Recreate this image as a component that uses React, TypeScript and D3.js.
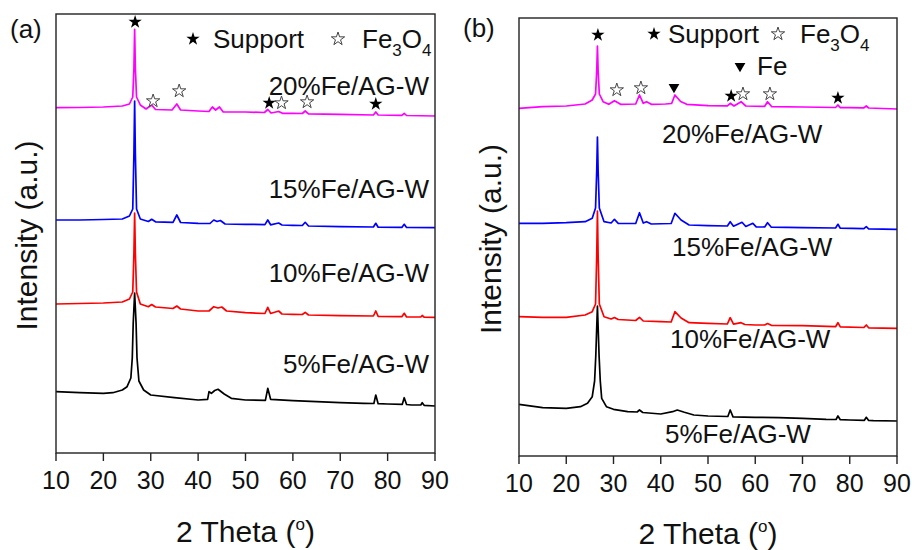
import React from "react";
import * as d3 from "d3";

type Pt = [number, number];

// ---- shared axis / labels ----
const xTicks = [10, 20, 30, 40, 50, 60, 70, 80, 90];
const sampleNames = ["5%Fe/AG-W", "10%Fe/AG-W", "15%Fe/AG-W", "20%Fe/AG-W"];
const seriesColors = ["#000000", "#ff0000", "#0000ff", "#ff00ff"];

// ---- panel (a): stacked intensities (a.u.) vs 2θ ----
const a5: Pt[] = [
  [10, 61.3], [15, 60.3], [20, 59.7], [22, 60.3], [24, 63], [25, 66.3], [25.8, 75], [26.1, 95],
  [26.3, 130], [26.6, 160], [26.9, 130], [27.1, 95], [27.5, 72], [28.5, 63], [30, 58], [35, 55.3],
  [40, 53], [42, 53.7], [42.3, 61.3], [42.8, 59.7], [43.5, 62.5], [44.2, 63.7], [45.5, 59],
  [47, 54.7], [50, 53], [54.2, 52.7], [54.7, 64.7], [55.3, 53.7], [60, 52.3], [65, 51.3],
  [70, 50.3], [75, 49.7], [77.1, 49.5], [77.5, 58], [78, 49.3], [80, 49], [83.1, 48.7],
  [83.5, 55.3], [84, 48.5], [85, 48], [87, 48], [87.3, 50.3], [87.7, 47.7], [90, 47],
];
const a10: Pt[] = [
  [10, 149], [15, 149.5], [20, 150], [24, 151], [25.5, 154], [26.2, 161], [26.45, 200], [26.6, 240],
  [26.75, 200], [27, 161], [27.8, 149], [29.5, 146.3], [30.2, 148.5], [31, 146], [34.7, 144.5],
  [35.5, 147], [36.3, 144], [40, 142], [42.3, 142], [43.3, 146.3], [44.2, 145], [45, 146], [46, 142],
  [50, 140.3], [54.1, 139.5], [54.7, 145.7], [55.3, 139.5], [57, 142], [57.7, 139], [60, 138.7],
  [62, 138.5], [62.6, 140.7], [63.3, 138], [70, 137.3], [77, 137], [77.5, 142], [78, 136.7],
  [83, 136.3], [83.5, 139.7], [84, 136], [87, 136], [87.3, 137.5], [87.7, 135.8], [90, 135.7],
];
const a15: Pt[] = [
  [10, 233], [15, 233], [20, 233.5], [24, 234], [25.5, 237], [26.2, 244], [26.45, 300], [26.6, 352],
  [26.75, 300], [27, 244], [27.8, 234], [29.5, 231.5], [30.2, 233.7], [31, 231.2], [34.7, 230.7],
  [35.5, 238], [36.3, 230.5], [40, 229.7], [42.5, 229.5], [43.3, 233], [44, 231.5], [44.7, 232.5],
  [45.7, 229], [50, 228.7], [54.1, 228.4], [54.7, 233], [55.3, 228.2], [57, 230], [57.7, 228],
  [60, 227.7], [62, 227.5], [62.6, 230.7], [63.3, 227], [70, 226.3], [77, 226], [77.5, 229.7],
  [78, 225.8], [83, 225.6], [83.5, 228.7], [84, 225.5], [90, 225.3],
];
const a20: Pt[] = [
  [10, 345.3], [15, 345.5], [20, 346], [24, 347], [25.5, 349], [26.2, 356], [26.45, 385],
  [26.6, 423.7], [26.75, 385], [27, 356], [27.8, 348], [29, 344], [30.2, 348], [31, 343.5],
  [34.5, 343], [35.5, 349], [36.3, 343], [40, 342], [42.3, 341.5], [43, 346], [43.7, 343],
  [44.5, 346], [45.3, 341], [50, 341], [54, 340.5], [54.7, 343.5], [55.4, 340], [57, 341.5],
  [57.8, 339.7], [60, 339.7], [62, 339.5], [62.6, 342], [63.3, 339.2], [70, 338.7], [77, 338],
  [77.5, 341], [78, 338], [83, 337.7], [83.5, 339.7], [84, 337.5], [90, 337],
];

// ---- panel (b) ----
const b5: Pt[] = [
  [10, 51.7], [15, 48.3], [20, 47.7], [23, 49.3], [24.5, 52.7], [25.5, 59.3], [26, 75], [26.25, 100],
  [26.6, 150], [26.95, 100], [27.2, 75], [27.5, 57.7], [28.5, 49.3], [30, 46.7], [33, 44.3], [35, 44],
  [35.5, 46], [36.2, 43.5], [40, 42], [42.5, 44.3], [43.5, 46], [45, 43.7], [47, 41], [50, 40],
  [54.2, 39.5], [54.7, 46], [55.3, 39.2], [60, 38.7], [65, 38.3], [70, 37.7], [75, 36.7],
  [77.1, 36.5], [77.5, 40], [78, 36.3], [80, 36], [83.1, 35.7], [83.5, 38.7], [84, 35.5],
  [85, 35.3], [90, 35],
];
const b10: Pt[] = [
  [10, 139.3], [15, 138.7], [20, 138.7], [24, 141], [25.5, 144.3], [26.2, 152], [26.45, 200],
  [26.6, 245], [26.75, 200], [27, 152], [28, 139.3], [29.5, 137], [30.2, 138.5], [31, 136.5],
  [34.7, 135.5], [35.5, 138.7], [36.3, 135], [40, 134.3], [42.2, 134], [43, 144.3], [44.3, 138],
  [46, 133.3], [50, 132.7], [54.1, 132], [54.7, 138.3], [55.4, 131.8], [57, 133.3], [57.8, 131.5],
  [60, 131], [62, 131], [62.6, 132.5], [63.4, 130.7], [70, 130.3], [77, 129.3], [77.5, 133.3],
  [78, 129.2], [83, 128.5], [83.5, 131], [84, 128.2], [90, 127.7],
];
const b15: Pt[] = [
  [10, 232.7], [15, 232.7], [20, 233.3], [24, 234.3], [25.5, 237.7], [26.2, 248], [26.45, 285],
  [26.6, 319], [26.75, 285], [27, 248], [28, 234.3], [29.5, 233], [30.2, 236.7], [31, 232.7],
  [34.7, 232.5], [35.5, 243.3], [36.3, 233], [37, 234.3], [38, 232], [42.2, 232.5], [43, 242.7],
  [44.3, 236], [46, 231], [50, 230.3], [54.1, 230], [54.7, 234.3], [55.4, 229.8], [57.2, 233.7],
  [58, 229.5], [59.5, 232.7], [60.2, 229.2], [62, 229], [62.6, 233.3], [63.4, 228.8], [70, 228.3],
  [77, 228], [77.5, 231.7], [78, 227.8], [83, 227.4], [83.5, 229.3], [84, 227.2], [90, 226.7],
];
const b20: Pt[] = [
  [10, 347.7], [15, 349.3], [20, 350], [24, 352], [25.5, 356], [26.2, 362], [26.45, 385], [26.6, 410],
  [26.75, 385], [27, 362], [27.8, 354.3], [29, 351.7], [30.2, 355.3], [31.5, 351.7], [34.7, 352],
  [35.5, 361], [36.3, 352.7], [37, 354.3], [38, 351.7], [41, 352], [42.3, 352.5], [43, 361],
  [44.2, 354.5], [45.5, 351.7], [50, 350.3], [54.1, 350.2], [54.7, 352.7], [55.5, 350], [57, 354.3],
  [58, 350], [62, 349.7], [62.6, 354.3], [63.5, 349.3], [70, 349], [77, 348.5], [77.5, 351],
  [78, 348.4], [80, 348.3], [83, 348.2], [83.5, 350], [84, 348], [90, 347],
];

// ---- phase markers: [2θ, intensity, kind] ----
type Mk = [number, number, "support" | "fe3o4" | "fe"];
const aMarkers: Mk[] = [
  [26.7, 431, "support"], [30.5, 352, "fe3o4"], [36.0, 362, "fe3o4"], [55.0, 350, "support"],
  [57.6, 350, "fe3o4"], [63.0, 351, "fe3o4"], [77.5, 349, "support"],
];
const bMarkers: Mk[] = [
  [26.7, 421, "support"], [30.7, 366, "fe3o4"], [35.8, 368, "fe3o4"], [42.8, 369, "fe"],
  [54.9, 360, "support"], [57.4, 362, "fe3o4"], [63.1, 362, "fe3o4"], [77.5, 358, "support"],
];

const FONT = "'Liberation Sans', Arial, Helvetica, sans-serif";

const starPath = d3.symbol().type(d3.symbolStar).size(55)() as string;
const triPath = d3.symbol().type(d3.symbolTriangle).size(50)() as string;

function Marker({ x, y, kind }: { x: number; y: number; kind: string }) {
  if (kind === "support")
    return <path d={starPath} transform={`translate(${x},${y})`} fill="#000" />;
  if (kind === "fe3o4")
    return (
      <path d={starPath} transform={`translate(${x},${y})`} fill="#fff" stroke="#444" strokeWidth={1} />
    );
  return <path d={triPath} transform={`translate(${x},${y}) rotate(180)`} fill="#000" />;
}

type PanelProps = {
  left: number; right: number; top: number; bottom: number;
  series: Pt[][];
  markers: Mk[];
  labelPos: { x: number; y: number; anchor: string }[];
  tag: string; tagPos: [number, number];
  yTitleX: number;
  tickLabelY: number;
  xTitleY: number;
  legend: React.ReactNode;
};

function Panel(p: PanelProps) {
  const x = d3.scaleLinear().domain([10, 90]).range([p.left, p.right]);
  const y = d3.scaleLinear().domain([0, p.bottom - p.top]).range([p.bottom, p.top]);
  const line = d3.line<Pt>().x((d) => x(d[0])).y((d) => y(d[1]));
  const cx = (p.left + p.right) / 2;
  const cy = (p.top + p.bottom) / 2;
  return (
    <g fontFamily={FONT}>
      {p.series.map((s, i) => (
        <path key={i} d={line(s) as string} fill="none" stroke={seriesColors[i]} strokeWidth={1.7} strokeLinejoin="round" />
      ))}
      <rect x={p.left} y={p.top} width={p.right - p.left} height={p.bottom - p.top} fill="none" stroke="#222" strokeWidth={1.4} />
      {xTicks.map((t) => (
        <g key={t}>
          <line x1={x(t)} x2={x(t)} y1={p.bottom} y2={p.bottom + 8} stroke="#222" strokeWidth={1.4} />
          <text x={x(t)} y={p.tickLabelY} fontSize={25} textAnchor="middle" fill="#111">{t}</text>
        </g>
      ))}
      <text x={cx} y={p.xTitleY} fontSize={30} textAnchor="middle" fill="#111">
        2 Theta (<tspan fontSize={17} dy={-12}>o</tspan><tspan dy={12}>)</tspan>
      </text>
      <text transform={`translate(${p.yTitleX},${cy + 2}) rotate(-90)`} fontSize={30} textAnchor="middle" fill="#111">
        Intensity (a.u.)
      </text>
      <text x={p.tagPos[0]} y={p.tagPos[1]} fontSize={26} fill="#111">{p.tag}</text>
      {sampleNames.map((n, i) => (
        <text key={n} x={p.labelPos[i].x} y={p.labelPos[i].y} fontSize={26} textAnchor={p.labelPos[i].anchor} fill="#111">{n}</text>
      ))}
      {p.markers.map((m, i) => (
        <Marker key={i} x={x(m[0])} y={y(m[1])} kind={m[2]} />
      ))}
      {p.legend}
    </g>
  );
}

function Fe3O4({ x, y }: { x: number; y: number }) {
  return (
    <text x={x} y={y} fontSize={26} fill="#111" fontFamily={FONT}>
      Fe<tspan fontSize={17} dy={8}>3</tspan><tspan dy={-8}>O</tspan><tspan fontSize={17} dy={8}>4</tspan>
    </text>
  );
}

export default function App() {
  const legendA = (
    <g>
      <Marker x={193} y={39} kind="support" />
      <text x={213} y={48} fontSize={26} fill="#111" fontFamily={FONT}>Support</text>
      <Marker x={338} y={39} kind="fe3o4" />
      <Fe3O4 x={362} y={48} />
    </g>
  );
  const legendB = (
    <g>
      <Marker x={654} y={34} kind="support" />
      <text x={668} y={43} fontSize={26} fill="#111" fontFamily={FONT}>Support</text>
      <Marker x={778} y={34} kind="fe3o4" />
      <Fe3O4 x={800} y={43} />
      <Marker x={740} y={66} kind="fe" />
      <text x={757} y={75} fontSize={26} fill="#111" fontFamily={FONT}>Fe</text>
    </g>
  );
  return (
    <svg width={915} height={550} style={{ position: "absolute", left: 0, top: 0, background: "#fff" }}>
      <rect width={915} height={550} fill="#fff" />
      <Panel
        left={56} right={435} top={14} bottom={453}
        series={[a5, a10, a15, a20]}
        markers={aMarkers}
        labelPos={[
          { x: 429, y: 373, anchor: "end" },
          { x: 429, y: 282, anchor: "end" },
          { x: 429, y: 198, anchor: "end" },
          { x: 429, y: 95, anchor: "end" },
        ]}
        tag="(a)" tagPos={[10, 38]}
        yTitleX={37}
        tickLabelY={489}
        xTitleY={542}
        legend={legendA}
      />
      <Panel
        left={519} right={897} top={18} bottom={456}
        series={[b5, b10, b15, b20]}
        markers={bMarkers}
        labelPos={[
          { x: 665, y: 443, anchor: "start" },
          { x: 670, y: 348, anchor: "start" },
          { x: 672, y: 256, anchor: "start" },
          { x: 662, y: 143, anchor: "start" },
        ]}
        tag="(b)" tagPos={[463, 37]}
        yTitleX={501}
        tickLabelY={492}
        xTitleY={544}
        legend={legendB}
      />
    </svg>
  );
}
